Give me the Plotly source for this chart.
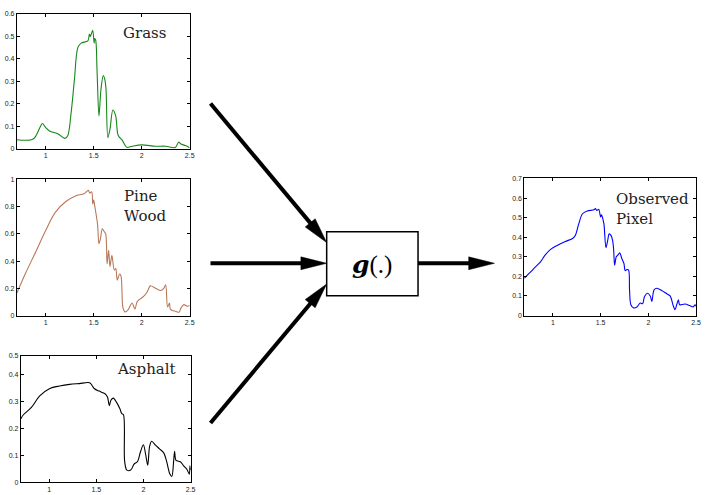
import math
import plotly.graph_objects as go

W, H = 708, 495

# ---------------- data ----------------
grass_x = [0.70, 0.87, 0.94, 0.965, 1.0, 1.04, 1.13, 1.2, 1.23, 1.265, 1.3, 1.335, 1.37, 1.44, 1.455, 1.465,
           1.475, 1.49, 1.505, 1.51, 1.52, 1.535, 1.555, 1.576, 1.6, 1.615, 1.628, 1.648, 1.67, 1.70, 1.73,
           1.755, 1.80, 1.845, 1.90, 2.0, 2.145, 2.25, 2.35, 2.385, 2.41, 2.455, 2.5]
grass_y = [0.041, 0.044, 0.095, 0.113, 0.095, 0.08, 0.066, 0.047, 0.059, 0.16, 0.31, 0.45, 0.47, 0.48, 0.51, 0.50,
           0.51, 0.527, 0.47, 0.49, 0.485, 0.35, 0.146, 0.264, 0.326, 0.31, 0.27, 0.05, 0.088, 0.173, 0.146,
           0.061, 0.037, 0.007, 0.012, 0.018, 0.012, 0.012, 0.006, 0.03, 0.022, 0.015, 0.005]

pine_x = [0.70, 0.79, 0.896, 1.0, 1.10, 1.21, 1.31, 1.40, 1.444, 1.46, 1.48, 1.49, 1.50, 1.51, 1.54, 1.555,
          1.57, 1.59, 1.607, 1.625, 1.64, 1.656, 1.67, 1.69, 1.715, 1.73, 1.746, 1.77, 1.785, 1.805, 1.826,
          1.86, 1.90, 1.93, 1.955, 2.02, 2.06, 2.09, 2.146, 2.20, 2.23, 2.25, 2.27, 2.29, 2.30, 2.354,
          2.39, 2.41, 2.44, 2.475, 2.5]
pine_y = [0.165, 0.31, 0.467, 0.625, 0.758, 0.838, 0.879, 0.896, 0.92, 0.90, 0.91, 0.82, 0.85, 0.81, 0.673, 0.528,
          0.564, 0.637, 0.62, 0.60, 0.38, 0.48, 0.36, 0.443, 0.334, 0.345, 0.26, 0.305, 0.29, 0.056, 0.027,
          0.044, 0.092, 0.048, 0.104, 0.14, 0.177, 0.218, 0.20, 0.184, 0.20, 0.225, 0.063, 0.092, 0.045, 0.031,
          0.024, 0.056, 0.08, 0.068, 0.073]

asph_x = [0.70, 0.727, 0.814, 0.90, 1.007, 1.11, 1.217, 1.32, 1.43, 1.48, 1.53, 1.57, 1.60, 1.62, 1.638,
          1.655, 1.68, 1.715, 1.75, 1.77, 1.788, 1.80, 1.823, 1.865, 1.90, 1.935, 1.97, 1.999, 2.023, 2.045,
          2.065, 2.086, 2.13, 2.17, 2.215, 2.244, 2.28, 2.30, 2.32, 2.33, 2.345, 2.39, 2.426, 2.46, 2.486,
          2.493, 2.5]
asph_y = [0.236, 0.251, 0.279, 0.321, 0.349, 0.358, 0.364, 0.367, 0.370, 0.348, 0.339, 0.333, 0.327, 0.315, 0.285,
          0.305, 0.313, 0.297, 0.273, 0.255, 0.251, 0.079, 0.045, 0.045, 0.067, 0.076, 0.115, 0.139, 0.103, 0.063,
          0.133, 0.152, 0.137, 0.124, 0.109, 0.079, 0.030, 0.021, 0.079, 0.115, 0.081, 0.076, 0.061, 0.048, 0.030,
          0.061, 0.045]

obs_x = [0.70, 0.75, 0.80, 0.87, 0.92, 0.976, 1.045, 1.13, 1.21, 1.236, 1.27, 1.31, 1.36, 1.43, 1.445, 1.46,
         1.48, 1.50, 1.51, 1.52, 1.535, 1.556, 1.574, 1.59, 1.61, 1.626, 1.637, 1.647, 1.664, 1.68, 1.70, 1.723,
         1.744, 1.758, 1.776, 1.793, 1.803, 1.817, 1.845, 1.88, 1.915, 1.94, 1.96, 1.99, 2.02, 2.037, 2.06,
         2.09, 2.14, 2.193, 2.228, 2.263, 2.28, 2.297, 2.315, 2.328, 2.384, 2.437, 2.47, 2.49, 2.5]
obs_y = [0.19, 0.215, 0.24, 0.274, 0.31, 0.338, 0.358, 0.378, 0.395, 0.41, 0.467, 0.52, 0.534, 0.54, 0.546, 0.537,
         0.543, 0.504, 0.515, 0.50, 0.467, 0.346, 0.383, 0.417, 0.408, 0.383, 0.333, 0.257, 0.30, 0.308, 0.32, 0.29,
         0.266, 0.229, 0.235, 0.232, 0.131, 0.055, 0.039, 0.044, 0.064, 0.06, 0.097, 0.114, 0.10, 0.072, 0.131,
         0.139, 0.128, 0.111, 0.10, 0.047, 0.03, 0.055, 0.081, 0.055, 0.059, 0.05, 0.044, 0.055, 0.047]

x_tickvals = [1, 1.5, 2, 2.5]
x_ticktext = ["1", "1.5", "2", "2.5"]
grass_yticks = [0, 0.1, 0.2, 0.3, 0.4, 0.5, 0.6]
pine_yticks = [0, 0.2, 0.4, 0.6, 0.8, 1]
asph_yticks = [0, 0.1, 0.2, 0.3, 0.4, 0.47]
asph_yticktext = ["0", "0.1", "0.2", "0.3", "0.4", "0.5"]
obs_yticks = [0, 0.1, 0.2, 0.3, 0.4, 0.5, 0.6, 0.7]

# ---------------- layout helpers ----------------
def xd(a, b):
    return [a / W, b / W]

def yd(top, bottom):
    return [1 - bottom / H, 1 - top / H]

panels = [
    ("Grass", grass_x, grass_y, "#17871a", (17, 191), (10, 147), [0, 0.6], grass_yticks, None),
    ("Pine Wood", pine_x, pine_y, "#b8785a", (17, 191), (178, 316), [0, 1], pine_yticks, None),
    ("Asphalt", asph_x, asph_y, "#000000", (21, 192), (357, 485), [0, 0.47], asph_yticks, asph_yticktext),
    ("Observed Pixel", obs_x, obs_y, "#0000ff", (528, 701), (177, 316), [0, 0.7], obs_yticks, None),
]

fig = go.Figure()
tickfont = dict(family="Liberation Sans, Arial, sans-serif", size=7, color="#222222")

for i, (name, xs, ys, col, xdp, ydp, yr, ytv, ytt) in enumerate(panels, start=1):
    xa = "x" if i == 1 else f"x{i}"
    ya = "y" if i == 1 else f"y{i}"
    fig.add_trace(go.Scatter(x=xs, y=ys, mode="lines",
                             line=dict(color=col, width=1.1, shape="spline", smoothing=0.9),
                             xaxis=xa, yaxis=ya, showlegend=False, hoverinfo="skip", cliponaxis=True))
    xkey = "xaxis" if i == 1 else f"xaxis{i}"
    ykey = "yaxis" if i == 1 else f"yaxis{i}"
    yax = dict(domain=yd(*ydp), range=yr, anchor=xa, tickmode="array", tickvals=ytv,
               ticks="inside", ticklen=3, tickcolor="black", showline=True, linecolor="black",
               linewidth=1, mirror="ticks", showgrid=False, zeroline=False, tickfont=tickfont)
    if ytt:
        yax["ticktext"] = ytt
    fig.update_layout({
        xkey: dict(domain=xd(*xdp), range=[0.7, 2.5], anchor=ya, tickmode="array",
                   tickvals=x_tickvals, ticktext=x_ticktext,
                   ticks="inside", ticklen=3, tickcolor="black", showline=True, linecolor="black",
                   linewidth=1, mirror="ticks", showgrid=False, zeroline=False, tickfont=tickfont),
        ykey: yax,
    })

# overlay pixel axes (transparent)
fig.update_layout(
    xaxis5=dict(domain=[0, 1], range=[0, W], visible=False, anchor="y5", fixedrange=True),
    yaxis5=dict(domain=[0, 1], range=[H, 0], visible=False, anchor="x5", fixedrange=True),
)

serif = "DejaVu Serif, Liberation Serif, serif"
labels = [
    ("Grass", 146, 29),
    ("Pine<br>Wood", 146, 205),
    ("Asphalt", 148, 370),
    ("Observed<br>Pixel", 657, 208),
]
for txt, x, y in labels:
    fig.add_annotation(x=x, y=y, xref="x5", yref="y5", text=txt, showarrow=False,
                       font=dict(family=serif, size=15, color="#222222"), align="left")

# box g(.)
fig.add_shape(type="rect", x0=329, x1=421, y0=231, y1=296, xref="x5", yref="y5",
              line=dict(color="black", width=1.5), fillcolor="white")
fig.add_annotation(x=375, y=264, xref="x5", yref="y5",
                   text="<b><i>g</i></b><span style='font-family:Liberation Serif'>(.)</span>",
                   showarrow=False, font=dict(family=serif, size=25, color="black"))

# arrows: line + slender triangular head
arrows = [
    ((212, 101), (329, 242)),
    ((212, 263), (329, 263)),
    ((212, 425), (329, 284)),
    ((421, 263), (498, 263)),
]
HEAD_L, HEAD_W = 26, 13
for (tx, ty), (hx, hy) in arrows:
    dx, dy = hx - tx, hy - ty
    L = math.hypot(dx, dy)
    ux, uy = dx / L, dy / L
    nx, ny = -uy, ux
    bx, by = hx - HEAD_L * ux, hy - HEAD_L * uy
    fig.add_shape(type="line", x0=tx, y0=ty, x1=bx + 2 * ux, y1=by + 2 * uy, xref="x5", yref="y5",
                  line=dict(color="black", width=4))
    p1 = (bx + HEAD_W / 2 * nx, by + HEAD_W / 2 * ny)
    p2 = (bx - HEAD_W / 2 * nx, by - HEAD_W / 2 * ny)
    path = f"M {hx},{hy} L {p1[0]:.2f},{p1[1]:.2f} L {p2[0]:.2f},{p2[1]:.2f} Z"
    fig.add_shape(type="path", path=path, xref="x5", yref="y5",
                  line=dict(color="black", width=0.5), fillcolor="black")

fig.update_layout(width=W, height=H, margin=dict(l=0, r=0, t=0, b=0),
                  paper_bgcolor="white", plot_bgcolor="rgba(0,0,0,0)", showlegend=False)

fig.write_html("out.html")
